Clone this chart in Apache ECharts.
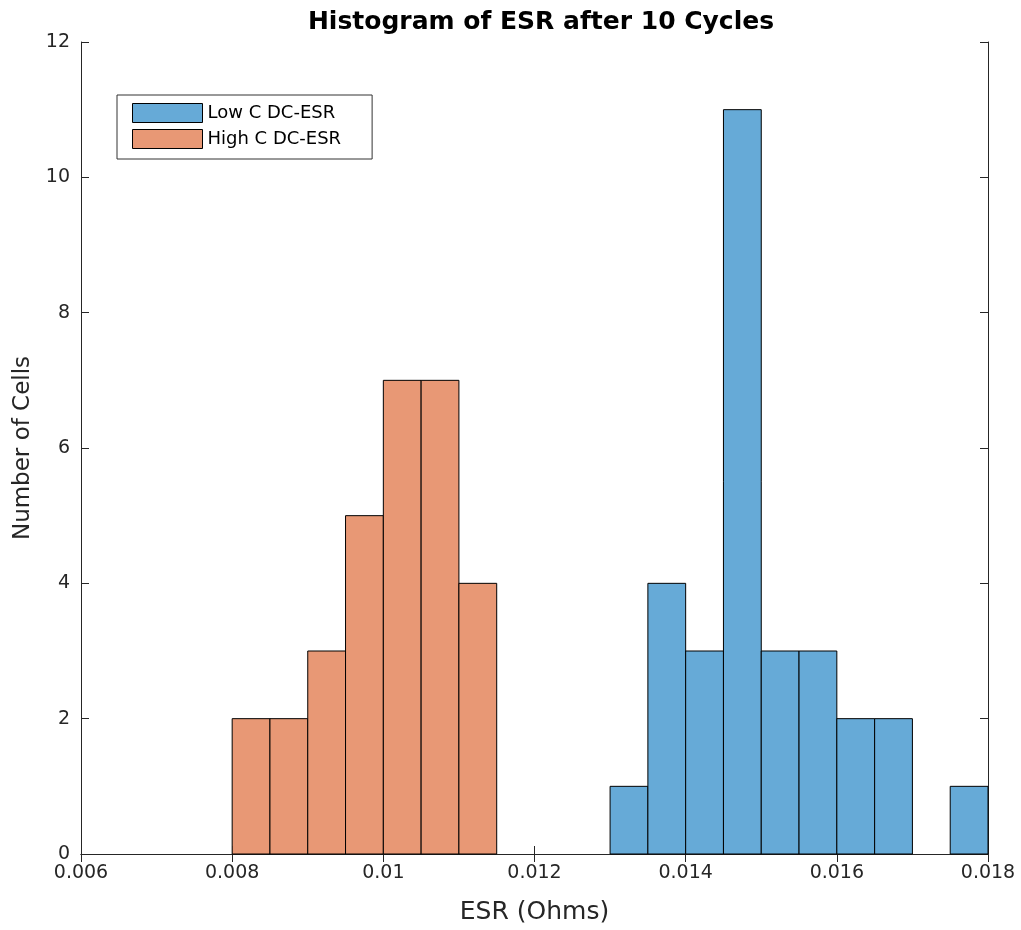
<!DOCTYPE html>
<html><head><meta charset="utf-8">
<script src="https://cdn.jsdelivr.net/npm/echarts@6/dist/echarts.min.js"></script>
<style>html,body{margin:0;padding:0;background:#fff}#c{width:1021px;height:930px}</style>
</head><body><div id="c"></div>
<script>
const binStarts = [0.0080,0.0085,0.0090,0.0095,0.0100,0.0105,0.0110,0.0115,0.0120,0.0125,0.0130,0.0135,0.0140,0.0145,0.0150,0.0155,0.0160,0.0165,0.0170,0.0175];
const binWidth = 0.0005;
const lowC  = [0,0,0,0,0,0,0,0,0,0,1,4,3,11,3,3,2,2,0,1];
const highC = [2,2,3,5,7,7,4,0,0,0,0,0,0,0,0,0,0,0,0,0];
const seriesNames = ['Low C DC-ESR','High C DC-ESR'];
const colors = ['#66AAD7','#E89875'];
const xTicks = {min:0.006, max:0.018, interval:0.002};
const yTicks = {min:0, max:12, interval:2};

const FONT = '"DejaVu Sans",Arial,sans-serif';
const AX = '#262626';

function mk(counts){
  return binStarts.map((s,i)=>[s, s+binWidth, counts[i]]).filter(d=>d[2]>0);
}
function renderItem(params, api){
  const p0 = api.coord([api.value(0), api.value(2)]);
  const p1 = api.coord([api.value(1), 0]);
  return {type:'rect', shape:{x:p0[0], y:p0[1], width:p1[0]-p0[0], height:p1[1]-p0[1]},
    style:{fill:api.visual('color'), stroke:'#000', lineWidth:1}};
}
const chart = echarts.init(document.getElementById('c'), null, {renderer:'canvas'});
const fmt = v => parseFloat(v.toFixed(4)).toString();
chart.setOption({
  animation:false,
  backgroundColor:'#fff',
  title:{text:'Histogram of ESR after 10 Cycles', left:536, textAlign:'center', top:5,
    textStyle:{fontFamily:FONT, fontSize:25, fontWeight:'bold', color:'#000'}},
  grid:{left:81, right:33, top:42, bottom:73},
  legend:{orient:'vertical', left:117, top:95, data:seriesNames, icon:'rect', itemWidth:70, itemHeight:19, itemGap:6,
    padding:[8,31,10,15], backgroundColor:'#fff', borderColor:'#333', borderWidth:1,
    textStyle:{fontFamily:FONT, fontSize:18, color:'#000'},
    itemStyle:{borderColor:'#000', borderWidth:1}},
  xAxis:[{type:'value', min:xTicks.min, max:xTicks.max, interval:xTicks.interval, position:'bottom',
    name:'ESR (Ohms)', nameLocation:'middle', nameGap:46,
    nameTextStyle:{fontFamily:FONT, fontSize:25, color:AX},
    axisLine:{show:true, lineStyle:{color:AX, width:1}},
    axisTick:{show:true, inside:true, length:8, lineStyle:{color:AX}},
    axisLabel:{fontFamily:FONT, fontSize:19, color:AX, margin:10, formatter:fmt},
    splitLine:{show:false}},
   {type:'value', min:xTicks.min, max:xTicks.max, interval:xTicks.interval, position:'top',
    axisLine:{show:true, lineStyle:{color:AX, width:1}},
    axisTick:{show:true, inside:true, length:8, lineStyle:{color:AX}},
    axisLabel:{show:false}, splitLine:{show:false}}],
  yAxis:[{type:'value', min:yTicks.min, max:yTicks.max, interval:yTicks.interval, position:'left',
    name:'Number of Cells', nameLocation:'middle', nameGap:46, nameRotate:90,
    nameTextStyle:{fontFamily:FONT, fontSize:23, color:AX},
    axisLine:{show:true, lineStyle:{color:AX, width:1}},
    axisTick:{show:true, inside:true, length:8, lineStyle:{color:AX}},
    axisLabel:{fontFamily:FONT, fontSize:19, color:AX, margin:11},
    splitLine:{show:false}},
   {type:'value', min:yTicks.min, max:yTicks.max, interval:yTicks.interval, position:'right',
    axisLine:{show:true, lineStyle:{color:AX, width:1}},
    axisTick:{show:true, inside:true, length:8, lineStyle:{color:AX}},
    axisLabel:{show:false}, splitLine:{show:false}}],
  series:[
    {name:seriesNames[0], type:'custom', renderItem, data:mk(lowC), encode:{x:[0,1], y:2}, itemStyle:{color:colors[0]}},
    {name:seriesNames[1], type:'custom', renderItem, data:mk(highC), encode:{x:[0,1], y:2}, itemStyle:{color:colors[1]}}
  ]
});
</script></body></html>
